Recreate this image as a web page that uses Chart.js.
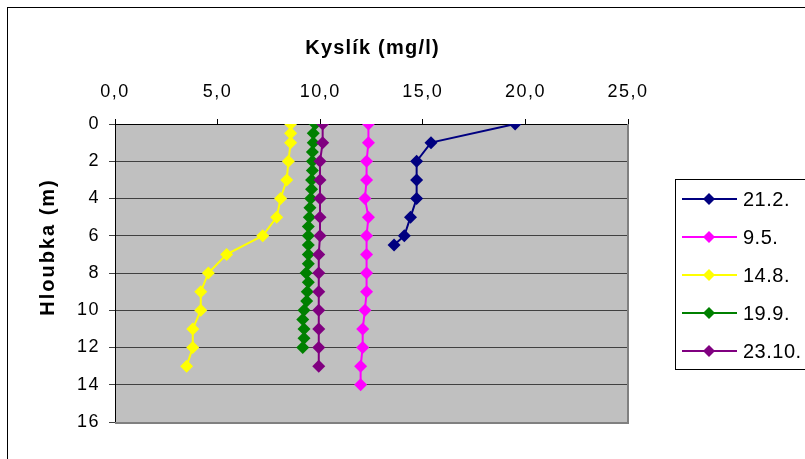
<!DOCTYPE html>
<html>
<head>
<meta charset="utf-8">
<script src="https://cdn.jsdelivr.net/npm/chart.js@4.4.1/dist/chart.umd.min.js"></script>
<style>
  html, body { margin: 0; padding: 0; background: #fff; }
</style>
</head>
<body>
<canvas id="chart-kyslik" width="805" height="459"></canvas>
<script>
// odbery (datum)
const seriesNames = ['21.2.', '9.5.', '14.8.', '19.9.', '23.10.'];
const seriesColors = ['#000080', '#ff00ff', '#ffff00', '#008000', '#800080'];

// hloubka (m) a kyslik (mg/l) pro kazdy odber
const depth_21_2 = [0, 1, 2, 3, 4, 5, 6, 6.5];
const oxygen_21_2 = [19.5, 15.4, 14.7, 14.7, 14.7, 14.4, 14.1, 13.6];

const depth_9_5 = [0, 1, 2, 3, 4, 5, 6, 7, 8, 9, 10, 11, 12, 13, 14];
const oxygen_9_5 = [12.35, 12.35, 12.26, 12.26, 12.18, 12.35, 12.26, 12.26, 12.26, 12.26, 12.18, 12.07, 12.07, 11.97, 11.97];

const depth_14_8 = [0, 0.5, 1, 2, 3, 4, 5, 6, 7, 8, 9, 10, 11, 12, 13];
const oxygen_14_8 = [8.56, 8.56, 8.56, 8.45, 8.37, 8.07, 7.88, 7.2, 5.44, 4.55, 4.18, 4.18, 3.79, 3.79, 3.49];

const depth_19_9 = [0, 0.5, 1, 1.5, 2, 2.5, 3, 3.5, 4, 4.5, 5, 5.5, 6, 6.5, 7, 7.5, 8, 8.5, 9, 9.5, 10, 10.5, 11, 11.5, 12];
const oxygen_19_9 = [9.75, 9.66, 9.66, 9.62, 9.62, 9.62, 9.58, 9.58, 9.54, 9.5, 9.47, 9.42, 9.42, 9.42, 9.42, 9.42, 9.31, 9.42, 9.37, 9.34, 9.21, 9.15, 9.21, 9.21, 9.15];

const depth_23_10 = [0, 1, 2, 3, 4, 5, 6, 7, 8, 9, 10, 11, 12, 13];
const oxygen_23_10 = [10.12, 10.12, 9.99, 9.99, 9.99, 9.99, 9.99, 9.93, 9.93, 9.93, 9.93, 9.93, 9.93, 9.93];

// osy
const xTicks = [0, 5, 10, 15, 20, 25];
const yTicks = [0, 2, 4, 6, 8, 10, 12, 14, 16];
const xTitle = 'Kyslík (mg/l)';
const yTitle = 'Hloubka (m)';

const depths = [depth_21_2, depth_9_5, depth_14_8, depth_19_9, depth_23_10];
const oxygens = [oxygen_21_2, oxygen_9_5, oxygen_14_8, oxygen_19_9, oxygen_23_10];

const FONT = 'Arial, "Liberation Sans", sans-serif';

function toPoints(d, o) {
  return d.map((v, i) => ({ x: o[i], y: v }));
}

// seda plocha grafu + ramecek
const plotBox = {
  id: 'plotBox',
  beforeDraw(chart) {
    const c = chart.ctx, a = chart.chartArea;
    c.save();
    c.fillStyle = '#fff';
    c.fillRect(0, 0, chart.width, chart.height);
    c.strokeStyle = '#000';
    c.lineWidth = 1;
    c.strokeRect(7.5, 7.5, 900, 600);
    c.fillStyle = '#c0c0c0';
    c.fillRect(a.left, a.top, a.right - a.left, a.bottom - a.top);
    c.restore();
    // sirsi proklad pisma u popisku os
    c.letterSpacing = '1.5px';
  },
  beforeDatasetsDraw(chart) {
    const c = chart.ctx, a = chart.chartArea;
    c.letterSpacing = '0px';
    c.save();
    c.strokeStyle = '#808080';
    c.lineWidth = 2;
    c.beginPath();
    c.moveTo(a.right, a.top);
    c.lineTo(a.right, a.bottom + 1);
    c.lineTo(a.left, a.bottom + 1);
    c.stroke();
    c.restore();
  }
};

// nazvy os + legenda vpravo
const sideText = {
  id: 'sideText',
  afterDraw(chart) {
    const c = chart.ctx, a = chart.chartArea;
    c.save();
    c.fillStyle = '#000';
    c.font = 'bold 20px ' + FONT;
    c.textAlign = 'center';
    c.textBaseline = 'middle';
    c.letterSpacing = '1.2px';
    c.fillText(xTitle, (a.left + a.right) / 2 + 1, 48);
    c.letterSpacing = '2px';
    c.translate(48, 248);
    c.rotate(-Math.PI / 2);
    c.fillText(yTitle, 1, 0);
    c.restore();

    c.save();
    c.strokeStyle = '#000';
    c.lineWidth = 1;
    c.strokeRect(675.5, 179.5, 200, 190);
    c.font = '20px ' + FONT;
    c.letterSpacing = '0.5px';
    c.textBaseline = 'middle';
    seriesNames.forEach((name, i) => {
      const y = 199 + i * 38;
      c.strokeStyle = seriesColors[i];
      c.fillStyle = seriesColors[i];
      c.lineWidth = 2;
      c.beginPath();
      c.moveTo(682, y);
      c.lineTo(737, y);
      c.stroke();
      c.beginPath();
      c.moveTo(709, y - 6);
      c.lineTo(715, y);
      c.lineTo(709, y + 6);
      c.lineTo(703, y);
      c.closePath();
      c.fill();
      c.fillStyle = '#000';
      c.fillText(name, 743, y + 1);
    });
    c.restore();
  }
};

new Chart(document.getElementById('chart-kyslik'), {
  type: 'line',
  data: {
    datasets: seriesNames.map((name, i) => ({
      label: name,
      data: toPoints(depths[i], oxygens[i]),
      borderColor: seriesColors[i],
      backgroundColor: seriesColors[i],
      borderWidth: 2,
      pointStyle: 'rectRot',
      pointRadius: 6.5,
      pointBorderWidth: 0,
      order: seriesNames.length - i,
      tension: 0,
      fill: false
    }))
  },
  options: {
    responsive: false,
    animation: false,
    layout: { padding: { left: 0, top: 0, right: 177, bottom: 37 } },
    plugins: {
      legend: { display: false },
      tooltip: { enabled: false }
    },
    scales: {
      x: {
        type: 'linear',
        position: 'top',
        min: 0,
        max: 25,
        afterFit(scale) { scale.height = 124; },
        afterBuildTicks(scale) { scale.ticks = xTicks.map(v => ({ value: v })); },
        ticks: {
          color: '#000',
          padding: 16,
          font: { size: 18, family: FONT },
          callback: v => v.toFixed(1).replace('.', ',')
        },
        grid: { drawOnChartArea: false, drawTicks: true, tickLength: 5, color: '#000' },
        border: { display: true, color: '#000', width: 1 }
      },
      y: {
        type: 'linear',
        reverse: true,
        min: 0,
        max: 16,
        afterFit(scale) { scale.width = 115; },
        afterBuildTicks(scale) { scale.ticks = yTicks.map(v => ({ value: v })); },
        ticks: {
          color: '#000',
          padding: 9,
          font: { size: 18, family: FONT }
        },
        grid: { color: '#404040', lineWidth: 1, tickLength: 6, drawOnChartArea: true },
        border: { display: true, color: '#000', width: 1 }
      }
    }
  },
  plugins: [plotBox, sideText]
});
</script>
</body>
</html>
